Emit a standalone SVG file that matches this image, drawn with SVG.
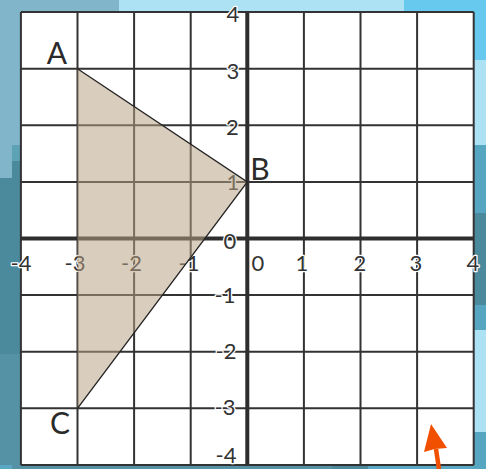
<svg xmlns="http://www.w3.org/2000/svg" width="486" height="469" viewBox="0 0 486 469">
  <style>
    .grid { stroke: #333; stroke-width: 2; fill: none; }
    .axis { stroke: #2e2e2e; stroke-width: 4; fill: none; }
    .tick { font-family: Lato, "Liberation Sans", sans-serif; font-size: 22px; fill: #333; stroke: #fff; stroke-width: 2.5; paint-order: stroke; stroke-linejoin: round; text-anchor: middle; }
    .pt { font-family: Lato, "Liberation Sans", sans-serif; font-size: 30px; fill: #2b2b2b; text-anchor: middle; }
    .edge { stroke: #222; stroke-width: 1.3; fill: none; }
  </style>
  <g id="background">
    <rect x="0" y="0" width="486" height="469" fill="#4a8a9c"/>
    <rect x="0" y="0" width="119" height="13" fill="#80b5ca"/>
    <rect x="119" y="0" width="285" height="13" fill="#ade1f4"/>
    <rect x="404" y="0" width="82" height="13" fill="#66c9ed"/>
    <rect x="0" y="0" width="21" height="178" fill="#80b5ca"/>
    <rect x="12" y="145" width="9" height="16" fill="#5ea2b6"/>
    <rect x="12" y="161" width="9" height="17" fill="#4a8a9c"/>
    <rect x="0" y="354" width="21" height="115" fill="#5592a6"/>
    <rect x="0" y="465" width="12" height="4" fill="#5ba8c4"/>
    <rect x="12" y="465" width="320" height="4" fill="#5592a6"/>
    <rect x="368" y="465" width="118" height="4" fill="#5ba8c4"/>
    <rect x="474" y="0" width="12" height="60" fill="#66c9ed"/>
    <rect x="474" y="60" width="12" height="85" fill="#ade1f4"/>
    <rect x="474" y="145" width="12" height="68" fill="#56a6c1"/>
    <rect x="474" y="305" width="12" height="25" fill="#56a6c1"/>
    <rect x="474" y="330" width="12" height="102" fill="#ade1f4"/>
    <rect x="474" y="432" width="12" height="37" fill="#56a6c1"/>
  </g>
  <g id="plane">
    <rect x="20.9" y="12.1" width="452.8" height="452.8" fill="#fff"/>
    <g class="grid">
      <path d="M20.9 12.1V464.9M77.5 12.1V464.9M134.1 12.1V464.9M190.7 12.1V464.9M303.9 12.1V464.9M360.5 12.1V464.9M417.1 12.1V464.9M473.7 12.1V464.9"/>
      <path d="M20.9 12.1H473.7M20.9 68.7H473.7M20.9 125.3H473.7M20.9 181.9H473.7M20.9 295.1H473.7M20.9 351.7H473.7M20.9 408.3H473.7M20.9 464.9H473.7"/>
    </g>
    <g class="axis">
      <path d="M20.9 238.5H473.7"/>
      <path d="M247.3 12.1V464.9"/>
    </g>
  </g>
  <g id="x-labels">
    <text class="tick" x="21" y="271">-4</text>
    <text class="tick" x="75" y="271">-3</text>
    <text class="tick" x="131.5" y="271">-2</text>
    <text class="tick" x="189" y="271">-1</text>
    <text class="tick" x="258" y="271">0</text>
    <text class="tick" x="302" y="271">1</text>
    <text class="tick" x="360" y="271">2</text>
    <text class="tick" x="416" y="271">3</text>
    <text class="tick" x="473" y="271">4</text>
  </g>
  <g id="y-labels">
    <text class="tick" x="233" y="21.5">4</text>
    <text class="tick" x="233" y="79">3</text>
    <text class="tick" x="232.5" y="135">2</text>
    <text class="tick" x="233" y="190">1</text>
    <text class="tick" x="230" y="249">0</text>
    <text class="tick" x="225" y="303">-1</text>
    <text class="tick" x="226" y="359">-2</text>
    <text class="tick" x="225" y="415">-3</text>
    <text class="tick" x="226" y="463">-4</text>
  </g>
  <g id="triangle">
    <polygon points="77.5,68.7 247.3,181.9 77.5,408.3" fill="rgb(184,161,131)" fill-opacity="0.53"/>
  </g>
  <g id="connectors">
    <path class="edge" d="M77.5 68.7L247.3 181.9L77.5 408.3"/>
  </g>
  <g id="point-A"><text class="pt" x="57" y="64">A</text></g>
  <g id="point-B"><text class="pt" x="260" y="180">B</text></g>
  <g id="point-C"><text class="pt" x="60" y="434">C</text></g>
  <g id="arrow">
    <path d="M436 449L439 469" stroke="#f05000" stroke-width="4.5" fill="none"/>
    <polygon points="431,424 447,448 434.5,449 424,452" fill="#f05000"/>
  </g>
</svg>
